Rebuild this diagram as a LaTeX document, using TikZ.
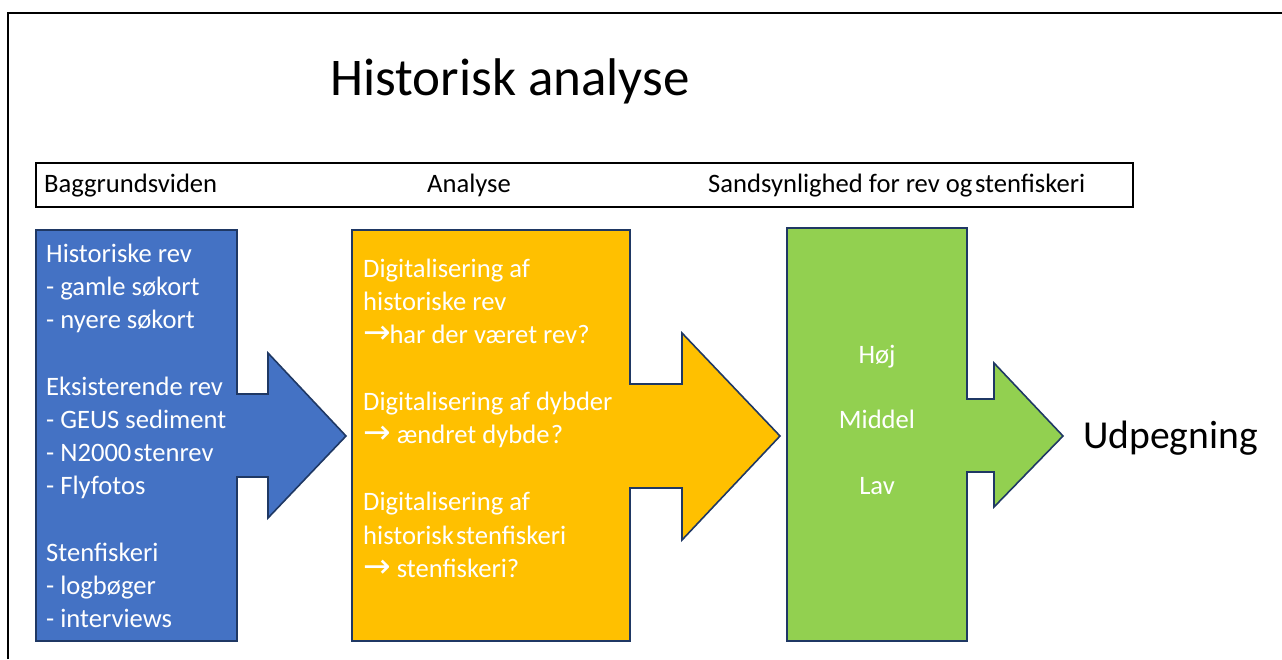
\documentclass[tikz,border=0pt]{standalone}
\usepackage{fontspec}
\setmainfont{Carlito}
\newfontfamily\arrowfont{DejaVu Sans}
\newcommand\myrarr{{\arrowfont\fontsize{33}{36}\selectfont →}}
\definecolor{cblue}{HTML}{4472C4}
\definecolor{cyellow}{HTML}{FFC000}
\definecolor{cgreen}{HTML}{92D050}
\definecolor{cedge}{HTML}{1F3864}
\tikzset{
  shapeedge/.style={draw=cedge, line width=1.6pt, line join=miter},
  boxtext/.style={anchor=base west, inner sep=0pt, text=white, font=\fontsize{26.6}{32}\selectfont},
  midtext/.style={anchor=base, inner sep=0pt, text=white, font=\fontsize{26.6}{32}\selectfont},
  headtext/.style={anchor=base west, inner sep=0pt, font=\fontsize{26.6}{32}\selectfont}
}
\begin{document}
\begin{tikzpicture}[x=1pt,y=-1pt]
\useasboundingbox (0,0) rectangle (1282,659);
% outer frame
\draw[line width=2.2pt] (8,659) -- (8,13) -- (1282,13);
% title
\node[anchor=base, inner sep=0pt, font=\fontsize{53}{60}\selectfont] (title) at (510,95) {Historisk analyse};
% header box
\node[draw, line width=1.6pt, minimum width=1097pt, minimum height=44pt, inner sep=0pt, anchor=north west] (header) at (35,162) {};
\node[headtext] (h1) at (44,192) {Baggrundsviden};
\node[headtext] (h2) at (427,192) {Analyse};
\node[headtext] (h3) at (708,192) {Sandsynlighed for rev og\hspace{0.1em}stenfiskeri};
% blue shape
\draw[shapeedge, fill=cblue] (36,230) -- (237,230) -- (237,394) -- (268,394) -- (268,353) -- (346,436) -- (268,518) -- (268,477) -- (237,477) -- (237,641) -- (36,641) -- cycle;
% yellow shape
\draw[shapeedge, fill=cyellow] (352,230) -- (630,230) -- (630,384) -- (682,384) -- (682,333) -- (780,436) -- (682,540) -- (682,488) -- (630,488) -- (630,641) -- (352,641) -- cycle;
% green shape
\draw[shapeedge, fill=cgreen] (787,228) -- (967,228) -- (967,399) -- (994,399) -- (994,363) -- (1063,436) -- (994,507) -- (994,472) -- (967,472) -- (967,641) -- (787,641) -- cycle;
% blue text
\foreach \y/\t [count=\i] in {262/Historiske rev, 295/- gamle søkort, 328/- nyere søkort, 395/Eksisterende rev, 428/- GEUS sediment, 461/- N2000\hspace{0.08em}stenrev, 494/- Flyfotos, 561/Stenfiskeri, 594/- logbøger, 627/- interviews}
  \node[boxtext] (b\i) at (46,\y) {\t};
% yellow text
\node[boxtext] (y1) at (363,277) {Digitalisering af};
\node[boxtext] (y2) at (363,310) {historiske rev};
\node[boxtext] (y3) at (363,343) {\myrarr\hspace{-0.05em}har der været rev?};
\node[boxtext] (y4) at (363,410) {Digitalisering af dybder};
\node[boxtext] (y5) at (363,443) {\myrarr{} ændret dybde\hspace{0.05em}?};
\node[boxtext] (y6) at (363,510) {Digitalisering af};
\node[boxtext] (y7) at (363,544) {historisk\hspace{0.08em}stenfiskeri};
\node[boxtext] (y8) at (363,577) {\myrarr{} stenfiskeri?};
% green text
\node[midtext] (g1) at (877,363) {Høj};
\node[midtext] (g2) at (877,428) {Middel};
\node[midtext] (g3) at (877,494) {Lav};
% result
\node[anchor=base west, inner sep=0pt, font=\fontsize{39.6}{46}\selectfont] (udp) at (1083,448) {Udpegning};
\end{tikzpicture}
\end{document}
